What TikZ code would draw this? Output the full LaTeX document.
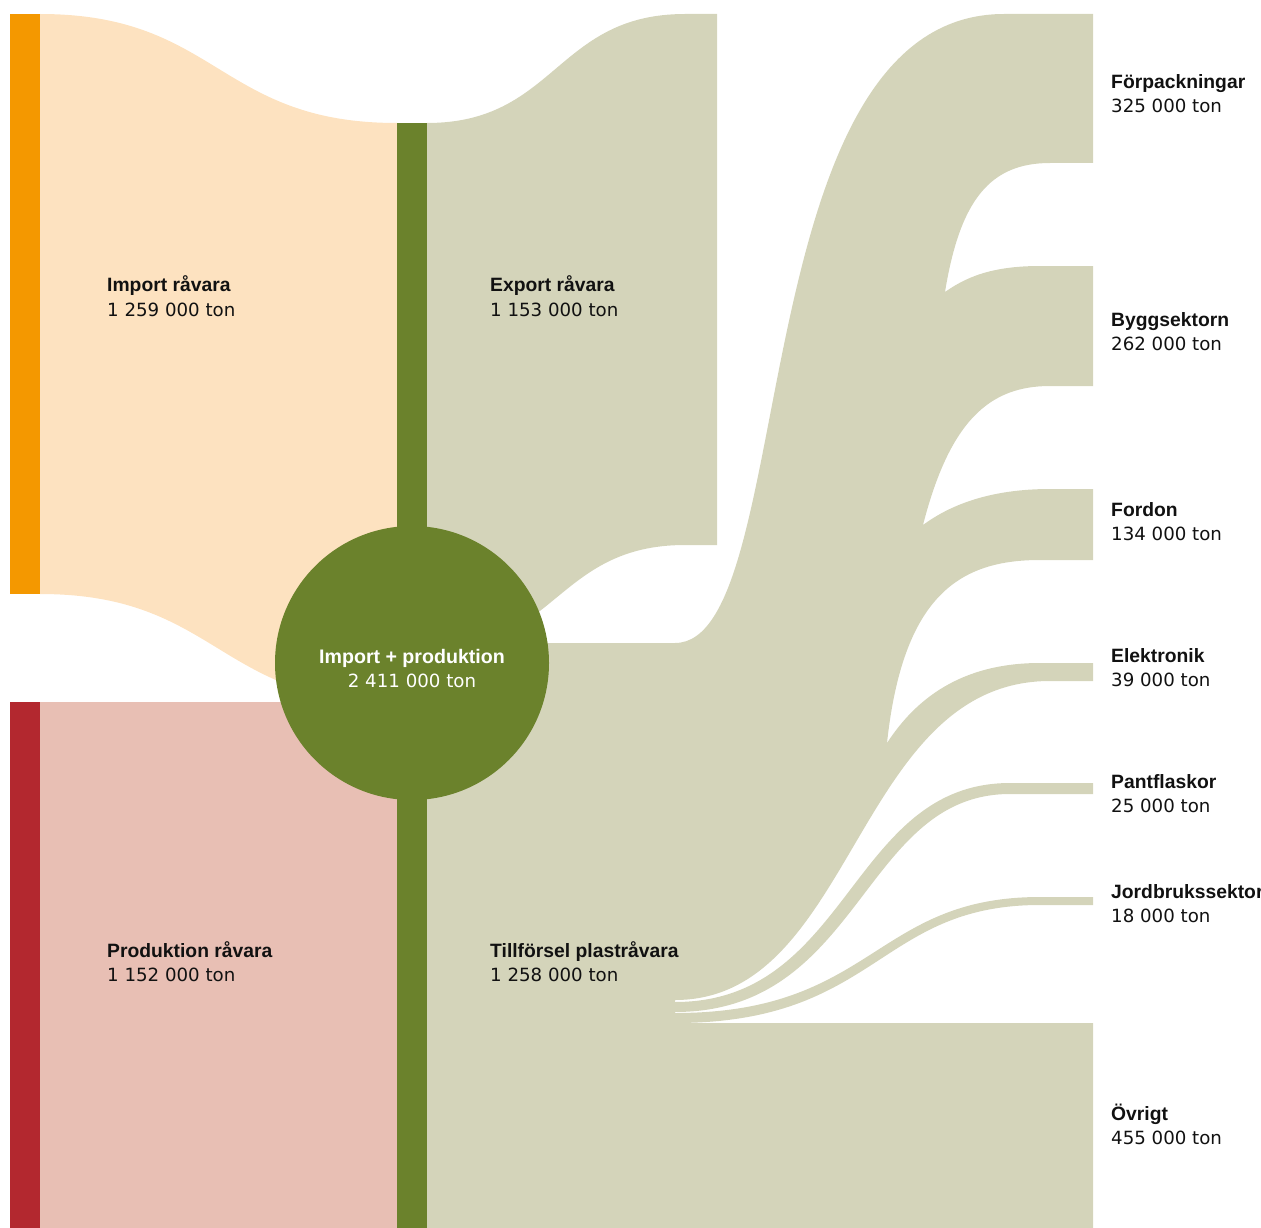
\documentclass[tikz,border=0pt]{standalone}
\usepackage{fontspec}
\setmainfont{Liberation Sans}
\newfontfamily\numfont{DejaVu Sans}
\definecolor{importbar}{HTML}{F49800}
\definecolor{importflow}{HTML}{FDE2C0}
\definecolor{prodbar}{HTML}{B3282F}
\definecolor{prodflow}{HTML}{E8BFB4}
\definecolor{hubgreen}{HTML}{6B822C}
\definecolor{outflow}{HTML}{D4D4BA}
\definecolor{ink}{HTML}{111111}
\begin{document}
\begin{tikzpicture}[x=1pt,y=-1pt,
  band/.style={fill=outflow},
  lbl/.style={anchor=base west, inner sep=0pt, text=ink,
    font=\fontsize{19.3}{22}\selectfont\bfseries},
  val/.style={anchor=base west, inner sep=0pt, text=ink,
    font=\fontsize{18.2}{22}\selectfont\numfont},
  hublbl/.style={anchor=base, inner sep=0pt, text=white,
    font=\fontsize{19.6}{22}\selectfont\bfseries},
  hubval/.style={anchor=base, inner sep=0pt, text=white,
    font=\fontsize{18.2}{22}\selectfont\numfont}]
\useasboundingbox (0,0) rectangle (1261,1228);

% source and hub columns
\coordinate (impA) at (40,14);   \coordinate (impB) at (40,594);
\coordinate (prdA) at (40,702);  \coordinate (prdB) at (40,1228);
\coordinate (hubA) at (397,123); \coordinate (hubM) at (397,703);
\coordinate (hubB) at (397,1228);
\coordinate (outA) at (427,123); \coordinate (outM) at (427,651);
\coordinate (expA) at (685,14);  \coordinate (expB) at (685,545);
\coordinate (splA) at (675,643);

% import flow
\fill[importflow] (impA) .. controls (218,14) and (218,123) .. (hubA)
  -- (hubM) .. controls (218,703) and (218,594) .. (impB) -- cycle;
% production flow
\fill[prodflow] (prdA) rectangle (hubB);

% export flow
\fill[band] (outA) .. controls (556,123) and (556,14) .. (expA)
  -- (717,14) -- (717,545) -- (expB)
  .. controls (556,545) and (556,651) .. (outM) -- cycle;

% supply column with the large end uses
\fill[band] (427,643) -- (splA)
  .. controls (800,643) and (740,14) .. (1004,14) -- (1093,14)
  -- (1093,163) -- (1050,163)
  .. controls (990,163) and (960,200) .. (945,292)
  .. controls (965,278) and (990,266) .. (1040,266) -- (1093,266)
  -- (1093,386) -- (1050,386)
  .. controls (990,386) and (950,420) .. (923,525)
  .. controls (950,505) and (990,489) .. (1050,489) -- (1093,489)
  -- (1093,560) -- (1040,560)
  .. controls (960,560) and (903,595) .. (887,743)
  .. controls (915,700) and (960,663) .. (1040,663) -- (1093,663)
  -- (1093,681) -- (1050,681)
  .. controls (855,681) and (855,1000) .. (675,1000)
  -- (675,1023) -- (1093,1023) -- (1093,1228) -- (427,1228) -- cycle;

% thin end uses
\fill[band] (675,1002) .. controls (850,1002) and (850,783) .. (1010,783)
  -- (1093,783) -- (1093,794) -- (1010,794)
  .. controls (862,794) and (862,1012) .. (675,1012) -- cycle;
\fill[band] (675,1013) .. controls (874,1013) and (874,897) .. (1040,897)
  -- (1093,897) -- (1093,905) -- (1040,905)
  .. controls (878,905) and (878,1023) .. (675,1023) -- cycle;

% bars
\fill[importbar] (10,14) rectangle (impB);
\fill[prodbar] (10,702) rectangle (prdB);
\fill[hubgreen] (hubA) rectangle (427,1228);
\node[circle, fill=hubgreen, minimum size=274pt, inner sep=0pt] (hub) at (412,663) {};

% labels
\node[lbl] (impname) at (107,291) {Import råvara};
\node[val] (impval) at (107,316) {1 259 000 ton};
\node[lbl] (prdname) at (107,957) {Produktion råvara};
\node[val] (prdval) at (107,981) {1 152 000 ton};
\node[lbl] (expname) at (490,291) {Export råvara};
\node[val] (expval) at (490,316) {1 153 000 ton};
\node[lbl] (supname) at (490,957) {Tillförsel plastråvara};
\node[val] (supval) at (490,981) {1 258 000 ton};
\node[hublbl] (hubname) at (412,663) {Import + produktion};
\node[hubval] (hubvalue) at (412,687) {2 411 000 ton};

\node[lbl] (n1) at (1111,89) {Förpackningar};
\node[val] (v1) at (1111,113) {325 000 ton};
\node[lbl] (n2) at (1111,326) {Byggsektorn};
\node[val] (v2) at (1111,350) {262 000 ton};
\node[lbl] (n3) at (1111,516) {Fordon};
\node[val] (v3) at (1111,540) {134 000 ton};
\node[lbl] (n4) at (1111,662) {Elektronik};
\node[val] (v4) at (1111,686) {39 000 ton};
\node[lbl] (n5) at (1111,788) {Pantflaskor};
\node[val] (v5) at (1111,812) {25 000 ton};
\node[lbl] (n6) at (1111,898) {Jordbrukssektor};
\node[val] (v6) at (1111,922) {18 000 ton};
\node[lbl] (n7) at (1111,1120) {Övrigt};
\node[val] (v7) at (1111,1144) {455 000 ton};
\end{tikzpicture}
\end{document}
